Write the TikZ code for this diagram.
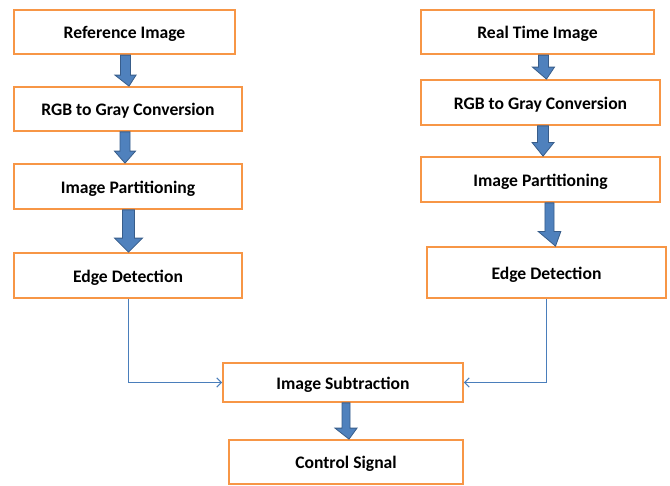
\documentclass[tikz,border=0pt]{standalone}
\usepackage{fontspec}
\setmainfont{Carlito}
\usepackage{tikz}
\usetikzlibrary{arrows.meta,calc}
\definecolor{boxorange}{HTML}{F79646}
\definecolor{arrowblue}{HTML}{4F81BD}
\definecolor{arrowedge}{HTML}{385D8A}
\definecolor{linkblue}{HTML}{4A7EBB}
\tikzstyle{stage} = [draw=boxorange, line width=1.3pt, fill=white, text centered, minimum width=171pt, minimum height=33.75pt, inner sep=0pt, text height=9.9pt, text depth=0pt, font=\fontsize{13.2}{15.8}\selectfont\bfseries]
\tikzstyle{barrow} = [draw=arrowedge, line width=0.6pt, fill=arrowblue, line join=miter]
\tikzstyle{link} = [draw, color=linkblue, line width=0.75pt, -{Straight Barb[length=3.5pt,width=7pt]}]
\newcommand{\stage}[3]{node (#1) [stage,#2] {#3}}
% from, to, xshift, shaft half width, head half width, head length (pt)
\newcommand{\blockarrow}[6]{%
\path[barrow] let \p1=([xshift=#3]#1.south), \p2=([xshift=#3]#2.north) in
  (\x1-#4,\y1) -- (\x1+#4,\y1) -- (\x1+#4,\y2+#6) -- (\x1+#5,\y2+#6) -- (\x2,\y2)
  -- (\x1-#5,\y2+#6) -- (\x1-#4,\y2+#6) -- cycle;}

\begin{document}
\begin{tikzpicture}[x=0.75pt,y=-0.75pt]
\useasboundingbox (0,0) rectangle (670,485);
% reference branch
\path (124.5,32) \stage{l1}{minimum width=165.75pt,minimum height=33.4pt}{Reference Image};
\path (l1)+(3.5,77) \stage{l2}{minimum height=33pt}{RGB to Gray Conversion};
\path (l2)+(0,77.5) \stage{l3}{}{Image Partitioning};
\path (l3)+(0,89) \stage{l4}{}{Edge Detection};
% real time branch
\path (l1)+(413,0) \stage{r1}{minimum width=174.75pt,minimum height=33.4pt}{Real Time Image};
\path (r1)+(3,70.5) \stage{r2}{minimum width=179.25pt}{RGB to Gray Conversion};
\path (r2)+(0,77) \stage{r3}{minimum width=179.25pt}{Image Partitioning};
\path (r3)+(6,93) \stage{r4}{minimum width=179.25pt,minimum height=38.25pt}{Edge Detection};
% output
\path (343,382.5) \stage{sub}{minimum width=180pt,minimum height=29.25pt}{Image Subtraction};
\path (sub)+(3,79.5) \stage{ctrl}{minimum width=175.5pt,minimum height=33pt}{Control Signal};

\blockarrow{l1}{l2}{0.75pt}{3.75pt}{7.9pt}{8.25pt}
\blockarrow{l2}{l3}{-2.25pt}{3.75pt}{7.9pt}{9pt}
\blockarrow{l3}{l4}{0.4pt}{4.5pt}{10.5pt}{10.5pt}
\blockarrow{r1}{r2}{4.5pt}{3.75pt}{8.25pt}{9pt}
\blockarrow{r2}{r3}{1.9pt}{4.1pt}{8.25pt}{10.25pt}
\blockarrow{r3}{r4}{6.75pt}{3.4pt}{8.5pt}{11pt}
\blockarrow{sub}{ctrl}{2.25pt}{3pt}{8.25pt}{8.25pt}

\path [link] (l4.south) |- (sub.west);
\path [link] (r4.south) |- (sub.east);
\end{tikzpicture}
\end{document}
